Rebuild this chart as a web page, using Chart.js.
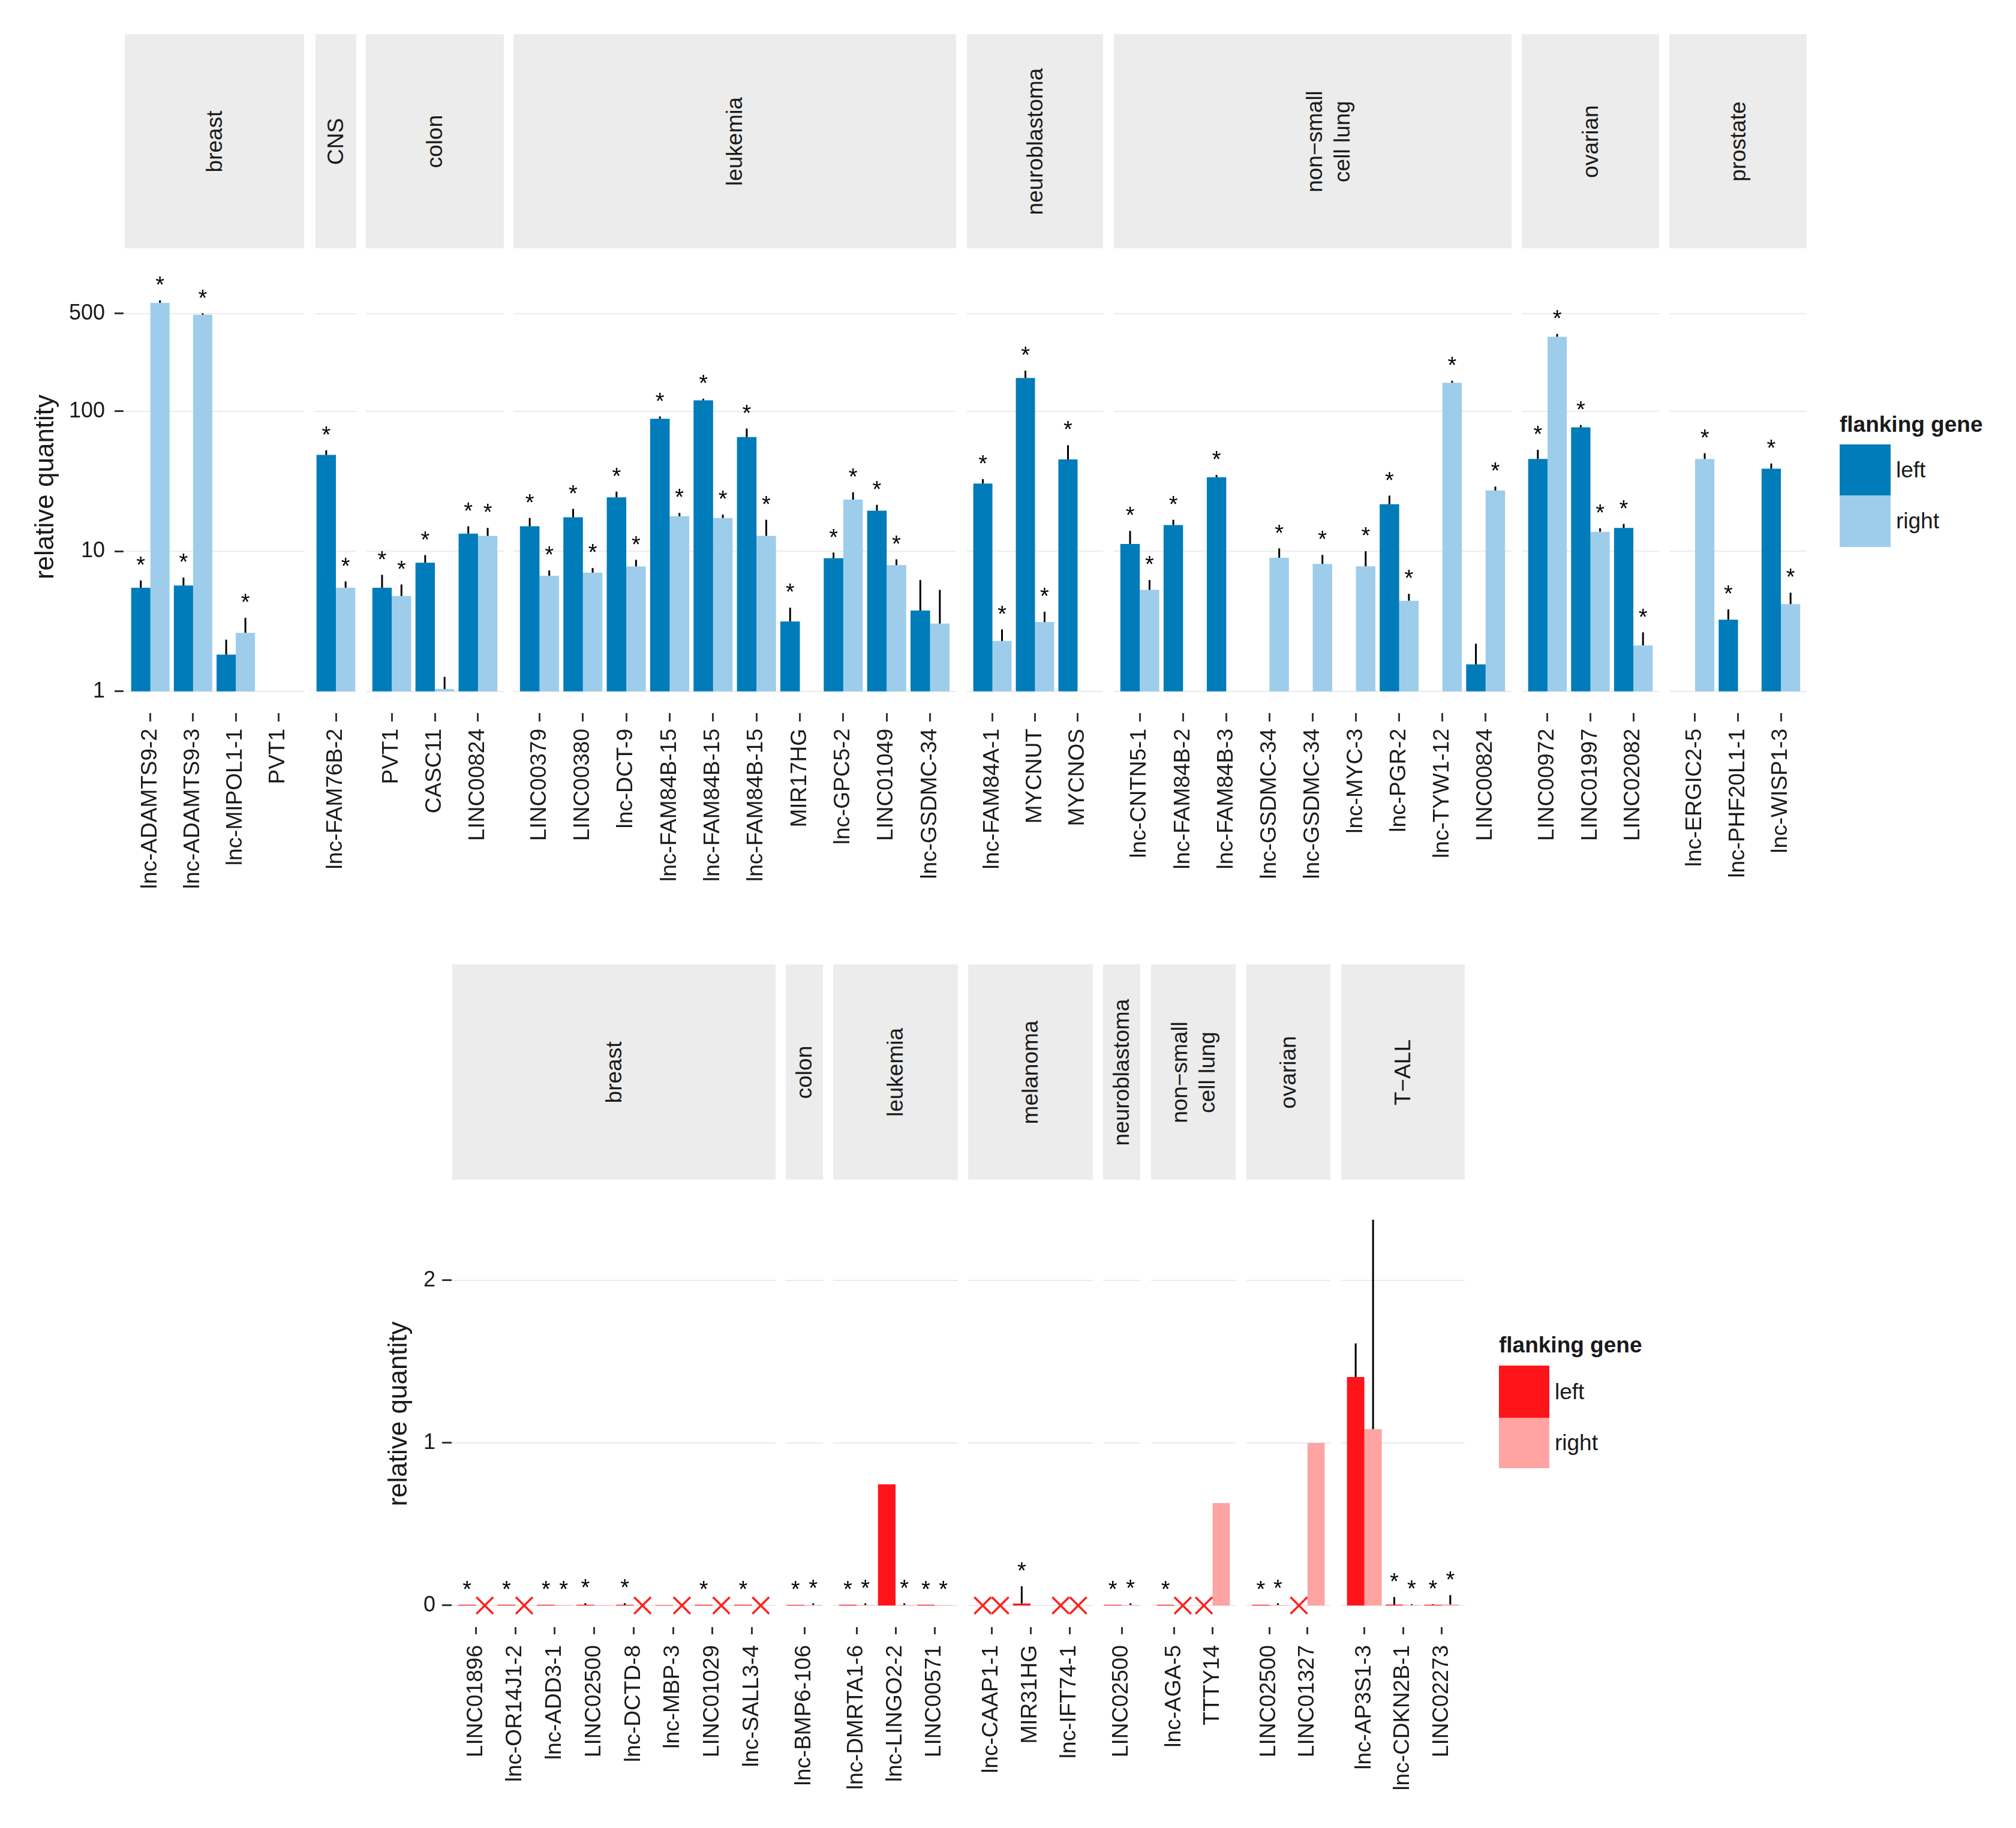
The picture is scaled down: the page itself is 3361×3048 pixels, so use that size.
<!DOCTYPE html>
<html lang="en">
<head>
<meta charset="UTF-8">
<title>relative quantity by flanking gene</title>
<style>
  body { margin: 0; background: #fff; font-family: "Liberation Sans", Arial, Helvetica, sans-serif; color: #1a1a1a; }
  #page { position: relative; width: 3361px; height: 3048px; overflow: hidden; background: #fff; }
  #page > * { position: absolute; }
  .strip { background: #ececec; }
  .strip span { position: absolute; left: 50%; top: 50%; transform: translate(-50%, -50%) rotate(-90deg);
                white-space: pre; text-align: center; font-size: 37px; line-height: 46px; }
  .legend-title { font-weight: bold; font-size: 37px; line-height: 37px; white-space: nowrap; }
  .key-label { font-size: 37px; white-space: nowrap; }
</style>
</head>
<body>
<div id="page"></div>

<script src="https://cdn.jsdelivr.net/npm/chart.js"></script>
<script>
// ---------- top panel data (log scale) ----------
const TOP_TISSUES = ['breast', 'CNS', 'colon', 'leukemia', 'neuroblastoma', 'non\u2212small\ncell lung', 'ovarian', 'prostate'];
const TOP_TISSUE_SIZES = [4, 1, 3, 10, 3, 9, 3, 3];
const TOP_GENES = [
  'lnc-ADAMTS9-2', 'lnc-ADAMTS9-3', 'lnc-MIPOL1-1', 'PVT1',
  'lnc-FAM76B-2',
  'PVT1', 'CASC11', 'LINC00824',
  'LINC00379', 'LINC00380', 'lnc-DCT-9', 'lnc-FAM84B-15', 'lnc-FAM84B-15', 'lnc-FAM84B-15', 'MIR17HG', 'lnc-GPC5-2', 'LINC01049', 'lnc-GSDMC-34',
  'lnc-FAM84A-1', 'MYCNUT', 'MYCNOS',
  'lnc-CNTN5-1', 'lnc-FAM84B-2', 'lnc-FAM84B-3', 'lnc-GSDMC-34', 'lnc-GSDMC-34', 'lnc-MYC-3', 'lnc-PGR-2', 'lnc-TYW1-12', 'LINC00824',
  'LINC00972', 'LINC01997', 'LINC02082',
  'lnc-ERGIC2-5', 'lnc-PHF20L1-1', 'lnc-WISP1-3'
];
const TOP_LEFT = [5.5, 5.7, 1.83, null, 48.8, 5.5, 8.3, 13.4, 15.1, 17.5, 24.3, 88.5, 119.7, 65.4, 3.16, 8.93, 19.5, 3.78,
  30.5, 173, 45.3, 11.3, 15.4, 33.8, null, null, null, 21.7, null, 1.56, 45.7, 76.8, 14.7, null, 3.25, 38.9];
const TOP_LEFT_SE = [0.7, 0.8, 0.51, null, 3.9, 1.3, 1.1, 1.7, 2.2, 2.6, 2.4, 3.4, 3.3, 9.9, 0.8, 0.87, 2.0, 2.46,
  2.3, 22, 12, 2.7, 1.4, 1.3, null, null, null, 3.3, null, 0.63, 7.4, 2.9, 1.0, null, 0.6, 3.5];
const TOP_LEFT_SIG = [1, 1, 0, 0, 1, 1, 1, 1, 1, 1, 1, 1, 1, 1, 1, 1, 1, 0,
  1, 1, 1, 1, 1, 1, 0, 0, 0, 1, 0, 0, 1, 1, 1, 0, 1, 1];
const TOP_RIGHT = [595, 489, 2.62, null, 5.5, 4.8, 1.04, 12.9, 6.7, 7.05, 7.8, 17.8, 17.3, 12.9, null, 23.4, 7.97, 3.05,
  2.29, 3.13, null, 5.31, null, null, 9.0, 8.13, 7.82, 4.44, 160, 27.2, 341, 13.8, 2.13, 45.7, null, 4.2];
const TOP_RIGHT_SE = [25, 11, 0.73, null, 0.6, 1.0, 0.23, 1.8, 0.6, 0.55, 0.9, 1.0, 1.0, 3.9, null, 3.0, 0.8, 2.26,
  0.48, 0.58, null, 0.93, null, null, 1.5, 1.3, 2.2, 0.53, 5, 1.8, 16, 0.8, 0.51, 4.5, null, 0.87];
const TOP_RIGHT_SIG = [1, 1, 1, 0, 1, 1, 0, 1, 1, 1, 1, 1, 1, 1, 0, 1, 1, 0,
  1, 1, 0, 1, 0, 0, 1, 1, 1, 1, 1, 1, 1, 1, 1, 1, 0, 1];
const TOP_TICKS = [1, 10, 100, 500];
const TOP_TICK_LABELS = ['1', '10', '100', '500'];

// ---------- bottom panel data (linear scale) ----------
const BOT_TISSUES = ['breast', 'colon', 'leukemia', 'melanoma', 'neuroblastoma', 'non\u2212small\ncell lung', 'ovarian', 'T\u2212ALL'];
const BOT_TISSUE_SIZES = [8, 1, 3, 3, 1, 2, 2, 3];
const BOT_GENES = [
  'LINC01896', 'lnc-OR14J1-2', 'lnc-ADD3-1', 'LINC02500', 'lnc-DCTD-8', 'lnc-MBP-3', 'LINC01029', 'lnc-SALL3-4',
  'lnc-BMP6-106',
  'lnc-DMRTA1-6', 'lnc-LINGO2-2', 'LINC00571',
  'lnc-CAAP1-1', 'MIR31HG', 'lnc-IFT74-1',
  'LINC02500',
  'lnc-AGA-5', 'TTTY14',
  'LINC02500', 'LINC01327',
  'lnc-AP3S1-3', 'lnc-CDKN2B-1', 'LINC02273'
];
const BOT_LEFT = [0.004, 0.004, 0.004, 0.004, 0.004, 0.003, 0.004, 0.004, 0.004, 0.004, 0.745, 0.004,
  null, 0.012, null, 0.004, 0.004, null, 0.004, null, 1.405, 0.005, 0.004];
const BOT_LEFT_SE = [0, 0, 0, 0.01, 0.01, 0, 0, 0, 0, 0, 0, 0,
  null, 0.106, null, 0, 0, null, 0, null, 0.207, 0.047, 0.003];
const BOT_LEFT_SIG = [1, 1, 1, 1, 1, 0, 1, 1, 1, 1, 0, 1, 0, 1, 0, 1, 1, 0, 1, 0, 0, 1, 1];
const BOT_LEFT_ND = [0, 0, 0, 0, 0, 0, 0, 0, 0, 0, 0, 0, 1, 0, 1, 0, 0, 1, 0, 1, 0, 0, 0];
const BOT_RIGHT = [null, null, 0.003, 0.003, null, null, null, null, 0.003, 0.003, 0.003, 0.003,
  null, null, null, 0.003, null, 0.63, 0.003, 1.0, 1.084, 0.003, 0.006];
const BOT_RIGHT_SE = [null, null, 0, 0, null, null, null, null, 0.01, 0.01, 0.01, 0,
  null, null, null, 0.01, null, 0, 0.01, 0, 1.289, 0.005, 0.058];
const BOT_RIGHT_SIG = [0, 0, 1, 0, 0, 0, 0, 0, 1, 1, 1, 1, 0, 0, 0, 1, 0, 0, 1, 0, 0, 1, 1];
const BOT_RIGHT_ND = [1, 1, 0, 0, 1, 1, 1, 1, 0, 0, 0, 0, 1, 0, 1, 0, 1, 0, 0, 0, 0, 0, 0];
const BOT_TICKS = [0, 1, 2];
const BOT_TICK_LABELS = ['0', '1', '2'];

// ---------- styling ----------
const FONT = '"Liberation Sans", Arial, Helvetica, sans-serif';
const TEXT = '#1a1a1a';
const TICK = '#333333';
const GRID = '#ebebeb';
const STAR_GAP = 33;
const STAR_SIZE = 38;
const CROSS = '#ff2020';

// layout of the two panels (pixel positions measured on the figure)
const TOP = {
  kind: 'log', min: 0.7015, max: 1186, ticks: TOP_TICKS, tickLabels: TOP_TICK_LABELS,
  tissues: TOP_TISSUES, sizes: TOP_TISSUE_SIZES, genes: TOP_GENES,
  left:  { v: TOP_LEFT,  se: TOP_LEFT_SE,  sig: TOP_LEFT_SIG,  nd: null, color: '#007cba', label: 'left' },
  right: { v: TOP_RIGHT, se: TOP_RIGHT_SE, sig: TOP_RIGHT_SIG, nd: null, color: '#9ecdeb', label: 'right' },
  extents: [[208, 507], [526, 594], [610, 840], [856, 1594], [1612, 1839], [1857, 2520], [2537, 2766], [2783, 3012]],
  unit: 71.85,
  stripTop: 57, stripBottom: 414, stripShift: [0, 0, 0, 0, 0, 26, 0, 0],
  plotTop: 435, plotBottom: 1189, xAxisH: 310, xTickLen: 14, xLabelPad: 12,
  yAxisLeft: 40, yAxisW: 166, yTickLen: 15, yLabelPad: 16, yTitlePad: 10,
  legend: { x: 3067, titleTop: 689, keyW: 85, keys: [[741, 85], [826, 86]], labelX: 3161 }
};
const BOT = {
  kind: 'linear', min: -0.133, max: 2.49, ticks: BOT_TICKS, tickLabels: BOT_TICK_LABELS,
  tissues: BOT_TISSUES, sizes: BOT_TISSUE_SIZES, genes: BOT_GENES,
  left:  { v: BOT_LEFT,  se: BOT_LEFT_SE,  sig: BOT_LEFT_SIG,  nd: BOT_LEFT_ND,  color: '#ff1419', label: 'left' },
  right: { v: BOT_RIGHT, se: BOT_RIGHT_SE, sig: BOT_RIGHT_SIG, nd: BOT_RIGHT_ND, color: '#ffa3a3', label: 'right' },
  extents: [[754, 1293], [1310, 1372], [1389, 1597], [1614, 1822], [1839, 1901], [1919, 2060], [2078, 2218], [2236, 2442]],
  unit: 65.5,
  stripTop: 1608, stripBottom: 1967, stripShift: [0, 0, 0, 0, 0, 0, 0, 0],
  plotTop: 2002, plotBottom: 2713, xAxisH: 300, xTickLen: 12, xLabelPad: 18,
  yAxisLeft: 633, yAxisW: 120, yTickLen: 16, yLabelPad: 11, yTitlePad: 6,
  legend: { x: 2499, titleTop: 2224, keyW: 84, keys: [[2277, 87], [2364, 84]], labelX: 2592 }
};

const page = document.getElementById('page');

function place(el, x, y, w, h) {
  el.style.left = x + 'px';
  el.style.top = y + 'px';
  if (w != null) el.style.width = w + 'px';
  if (h != null) el.style.height = h + 'px';
  page.appendChild(el);
  return el;
}

function makeCanvas(x, y, w, h) {
  const c = document.createElement('canvas');
  c.width = Math.round(w);
  c.height = Math.round(h);
  c.style.width = c.width + 'px';
  c.style.height = c.height + 'px';
  return place(c, Math.round(x), Math.round(y));
}

// horizontal grid lines across the whole facet (padding included)
function gridLines(ticks) {
  return {
    id: 'facetGrid',
    beforeDatasetsDraw(chart) {
      const ctx = chart.ctx, y = chart.scales.y;
      ctx.save();
      ctx.strokeStyle = GRID;
      ctx.lineWidth = 2;
      ticks.forEach(t => {
        const py = Math.round(y.getPixelForValue(t));
        ctx.beginPath();
        ctx.moveTo(0, py);
        ctx.lineTo(chart.width, py);
        ctx.stroke();
      });
      ctx.restore();
    }
  };
}

// error bars, significance stars and "not detected" crosses on each bar slot
function marks(series) {
  return {
    id: 'marks',
    afterDatasetsDraw(chart) {
      const ctx = chart.ctx, y = chart.scales.y;
      ctx.save();
      series.forEach((s, d) => {
        chart.getDatasetMeta(d).data.forEach((bar, i) => {
          const x = bar.x;
          const v = s.v[i];
          let top = null;
          if (v != null) {
            const err = s.se[i] || 0;
            const y0 = y.getPixelForValue(v);
            top = y.getPixelForValue(v + err);
            if (err > 0) {
              ctx.strokeStyle = '#000';
              ctx.lineWidth = 3;
              ctx.beginPath();
              ctx.moveTo(x, y0);
              ctx.lineTo(x, top);
              ctx.stroke();
            }
          }
          if (s.sig[i] && top != null) {
            ctx.fillStyle = '#000';
            ctx.font = STAR_SIZE + 'px ' + FONT;
            ctx.textAlign = 'center';
            ctx.textBaseline = 'alphabetic';
            ctx.fillText('*', x, top - STAR_GAP + 0.53 * STAR_SIZE);
          }
          if (s.nd && s.nd[i]) {
            const cy = y.getPixelForValue(0), r = 14;
            ctx.strokeStyle = CROSS;
            ctx.lineWidth = 3.5;
            ctx.beginPath();
            ctx.moveTo(x - r, cy - r); ctx.lineTo(x + r, cy + r);
            ctx.moveTo(x + r, cy - r); ctx.lineTo(x - r, cy + r);
            ctx.stroke();
          }
        });
      });
      ctx.restore();
    }
  };
}

function yScale(P, shown) {
  return {
    type: P.kind === 'log' ? 'logarithmic' : 'linear',
    display: shown,
    position: 'left',
    min: P.min,
    max: P.max,
    afterBuildTicks: s => { s.ticks = P.ticks.map(v => ({ value: v })); },
    afterFit: s => {
      if (shown) { s.width = P.yAxisW; s.paddingTop = 0; s.paddingBottom = 0; }
    },
    ticks: {
      callback: (v, i) => P.tickLabels[i],
      font: { family: FONT, size: 36 },
      color: TEXT,
      padding: P.yLabelPad
    },
    grid: { drawOnChartArea: false, tickLength: P.yTickLen, tickWidth: 3, tickColor: TICK },
    border: { display: false },
    title: {
      display: shown,
      text: 'relative quantity',
      font: { family: FONT, size: 44 },
      color: TEXT,
      padding: { top: P.yTitlePad, bottom: 0 }
    }
  };
}

function addAxis(P) {
  const canvas = makeCanvas(P.yAxisLeft, P.plotTop, P.yAxisW + 2, P.plotBottom - P.plotTop);
  new Chart(canvas, {
    type: 'bar',
    data: { labels: [''], datasets: [] },
    options: {
      responsive: false, animation: false, events: [],
      plugins: { legend: { display: false }, tooltip: { enabled: false } },
      scales: { x: { display: false }, y: yScale(P, true) }
    }
  });
}

function addFacets(P) {
  let start = 0;
  P.sizes.forEach((n, f) => {
    const lo = start, hi = start + n;
    start = hi;
    const [x0, x1] = P.extents[f];
    const w = x1 - x0;
    const pad = n > 1 ? 0.1 * w / (n + 0.2) : 0;
    const catPct = n > 1 ? 0.9 : 0.9 * P.unit / w;
    const series = [P.left, P.right].map(s => ({
      v: s.v.slice(lo, hi), se: s.se.slice(lo, hi), sig: s.sig.slice(lo, hi),
      nd: s.nd ? s.nd.slice(lo, hi) : null
    }));
    const canvas = makeCanvas(x0, P.plotTop, w, P.plotBottom - P.plotTop + P.xAxisH);
    new Chart(canvas, {
      type: 'bar',
      data: {
        labels: P.genes.slice(lo, hi),
        datasets: [P.left, P.right].map((s, d) => ({
          label: s.label,
          data: series[d].v.map(v => v == null ? null : (P.kind === 'log' ? [1, v] : v)),
          backgroundColor: s.color,
          borderWidth: 0,
          categoryPercentage: catPct,
          barPercentage: 1
        }))
      },
      options: {
        responsive: false, animation: false, events: [],
        layout: { padding: { left: pad, right: pad, top: 0, bottom: 0 } },
        plugins: { legend: { display: false }, tooltip: { enabled: false } },
        scales: {
          x: {
            grid: { display: true, drawOnChartArea: false, offset: false, tickLength: P.xTickLen, tickWidth: 3, tickColor: TICK },
            border: { display: false },
            ticks: {
              autoSkip: false, minRotation: 90, maxRotation: 90, padding: P.xLabelPad,
              font: { family: FONT, size: 37 }, color: TEXT
            },
            afterFit: s => { s.height = P.xAxisH; s.paddingLeft = 0; s.paddingRight = 0; }
          },
          y: yScale(P, false)
        }
      },
      plugins: [gridLines(P.ticks), marks(series)]
    });
  });
}

function addStrips(P) {
  P.tissues.forEach((name, f) => {
    const [x0, x1] = P.extents[f];
    const d = document.createElement('div');
    d.className = 'strip';
    const s = document.createElement('span');
    s.textContent = name;
    if (P.stripShift[f]) s.style.marginLeft = P.stripShift[f] + 'px';
    d.appendChild(s);
    place(d, x0, P.stripTop, x1 - x0, P.stripBottom - P.stripTop);
  });
}

function addLegend(P) {
  const L = P.legend;
  const t = document.createElement('div');
  t.className = 'legend-title';
  t.textContent = 'flanking gene';
  place(t, L.x, L.titleTop);
  [P.left, P.right].forEach((s, k) => {
    const [ky, kh] = L.keys[k];
    const key = document.createElement('div');
    key.style.background = s.color;
    place(key, L.x, ky, L.keyW, kh);
    const lab = document.createElement('div');
    lab.className = 'key-label';
    lab.textContent = s.label;
    lab.style.lineHeight = kh + 'px';
    place(lab, L.labelX, ky);
  });
}

[TOP, BOT].forEach(P => {
  addStrips(P);
  addAxis(P);
  addFacets(P);
  addLegend(P);
});
</script>
</body>
</html>
